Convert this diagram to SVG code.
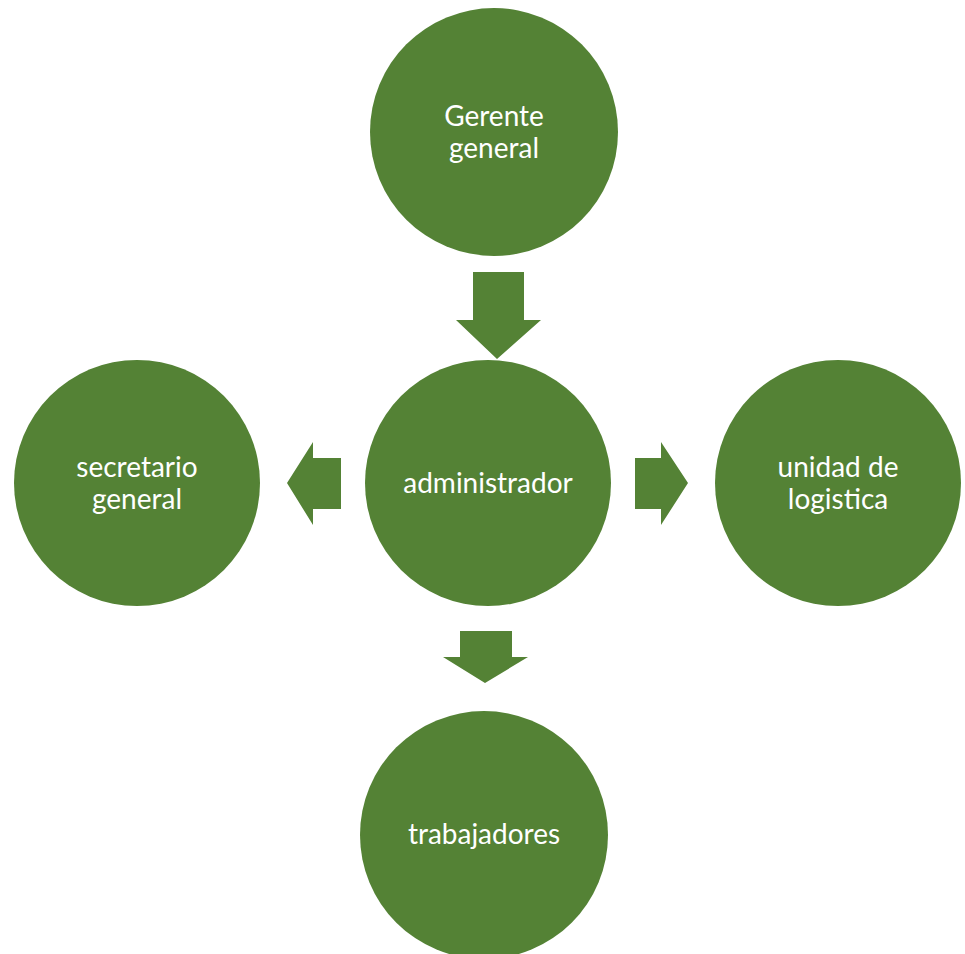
<svg xmlns="http://www.w3.org/2000/svg" width="965" height="954" viewBox="0 0 965 954">
<style>
.n{fill:#548235}
.a{fill:#548235}
.t{fill:#ffffff;font-family:Lato,"Open Sans",sans-serif;font-size:28px;text-anchor:middle}
</style>
<rect width="965" height="954" fill="#ffffff"/>
<g id="connectors">
<polygon class="a" points="473,272 524,272 524,320 541,320 497,359 456,320 473,320"/>
<polygon class="a" points="341,458 313,458 313,442 287,483 313,525 313,509 341,509"/>
<polygon class="a" points="635,458 661,458 661,442 688,483 661,525 661,509 635,509"/>
<polygon class="a" points="460,631 512,631 512,657 528,657 485,683 443,657 460,657"/>
</g>
<g id="gerente">
<circle class="n" cx="494" cy="132" r="124"/>
<text class="t" x="494" y="126">Gerente</text>
<text class="t" x="494" y="158">general</text>
</g>
<g id="administrador">
<circle class="n" cx="488" cy="483" r="123"/>
<text class="t" x="488" y="493">administrador</text>
</g>
<g id="secretario">
<circle class="n" cx="137" cy="483" r="123"/>
<text class="t" x="137" y="477">secretario</text>
<text class="t" x="137" y="509">general</text>
</g>
<g id="logistica">
<circle class="n" cx="838" cy="483" r="123"/>
<text class="t" x="838" y="477">unidad de</text>
<text class="t" x="838" y="509">logistica</text>
</g>
<g id="trabajadores">
<circle class="n" cx="484" cy="835" r="124"/>
<text class="t" x="484" y="844">trabajadores</text>
</g>
</svg>
